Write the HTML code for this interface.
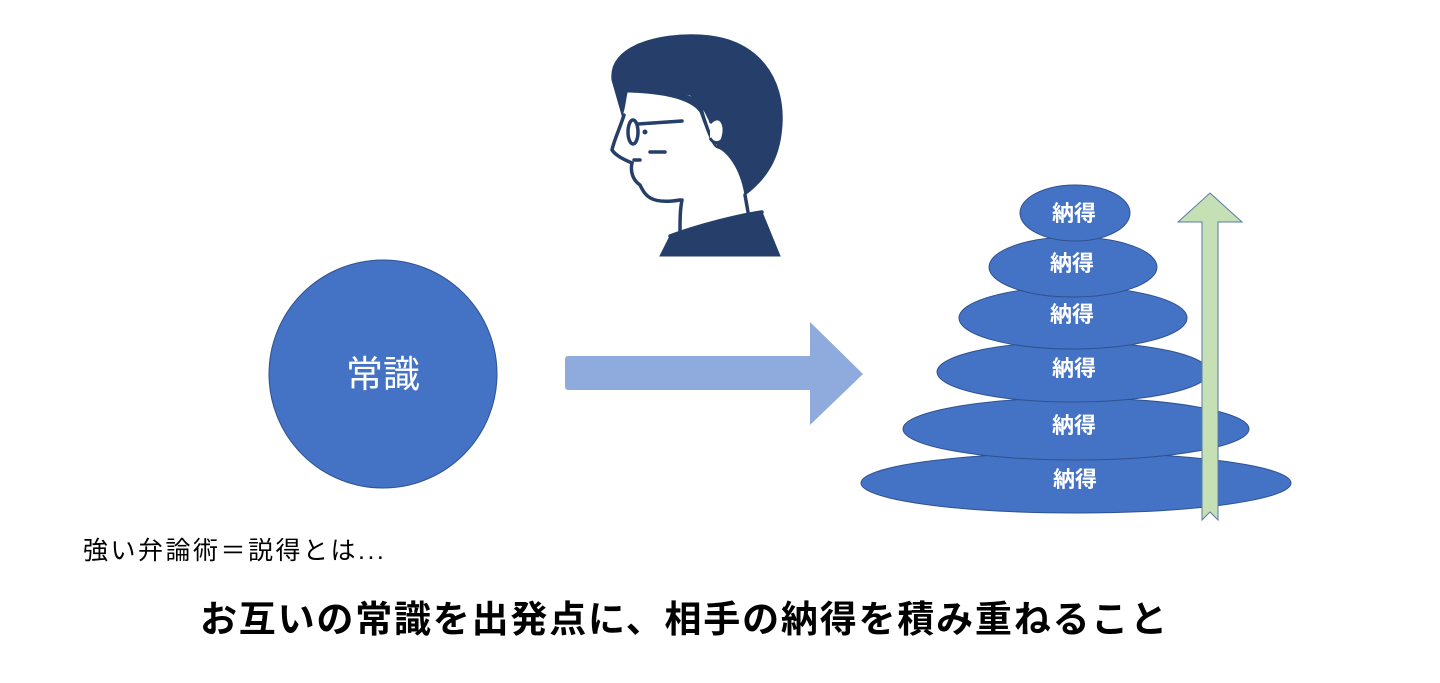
<!DOCTYPE html>
<html><head><meta charset="utf-8"><style>
body{margin:0;width:1440px;height:683px;background:#fff;overflow:hidden;position:relative;font-family:"Liberation Sans","Noto Sans CJK JP",sans-serif}
.t{position:absolute;white-space:nowrap;color:#000}
</style></head><body>
<svg width="1440" height="683" style="position:absolute;left:0;top:0">
<!-- person -->
<g fill="#263f6a" stroke="#263f6a">
<path d="M612,80 C608,45 660,33 700,35 C760,38 785,80 782,125 C780,160 765,180 745,195 C740,165 725,150 718,148 C712,120 700,100 690,95 C670,95 640,90 628,88 C625,100 625,110 622,115 Z"/>
<path d="M628,88 C660,90 690,95 700,100 C705,120 712,140 718,148 C712,148 705,125 700,112 C690,98 660,93 628,92 Z"/>
<path d="M660,256 L670,236 C700,225 740,215 762,212 L780,256 Z"/>
</g>
<g fill="none" stroke="#263f6a" stroke-width="3.5" stroke-linecap="round">
<path d="M624,115 C620,128 614,140 612,150 C616,156 625,160 632,163 C630,172 633,180 640,185 C645,195 650,205 680,200"/>
<path d="M682,200 C680,210 680,220 680,232"/>
<path d="M745,195 L748,212"/>
<path d="M670,236 C700,225 740,215 762,212"/>
<ellipse cx="633" cy="132" rx="5" ry="12"/>
<path d="M638,124 L682,121"/>
<path d="M650,152 L665,152"/>
<path d="M634,160 L640,160"/>
</g>
<circle cx="645" cy="132" r="2.5" fill="#263f6a"/>
<path d="M710,123 C720,112 728,125 722,140 C717,145 712,142 710,138" fill="#fff" stroke="#263f6a" stroke-width="3"/>
<!-- circle -->
<circle cx="383" cy="374" r="114" fill="#4472c4" stroke="#2f528f" stroke-width="1"/>
<!-- arrow -->
<path d="M568,356 L810,356 L810,322 L863,374 L810,425 L810,390 L568,390 Q565,390 565,386 L565,360 Q565,356 568,356 Z" fill="#8faadc"/>
<!-- ellipses -->
<g fill="#4472c4" stroke="#2f528f" stroke-width="1">
<ellipse cx="1076" cy="483" rx="215" ry="30"/>
<ellipse cx="1076" cy="429" rx="173" ry="31"/>
<ellipse cx="1073" cy="372" rx="136" ry="30"/>
<ellipse cx="1073" cy="318" rx="114" ry="31"/>
<ellipse cx="1073" cy="267" rx="84" ry="30"/>
<ellipse cx="1075" cy="213" rx="55" ry="28"/>
</g>
<g fill="#fff" font-size="22" font-weight="bold" font-family="Liberation Sans,Noto Sans CJK JP,sans-serif" text-anchor="middle">
<text x="1074" y="221">納得</text>
<text x="1072" y="271">納得</text>
<text x="1072" y="322">納得</text>
<text x="1074" y="376">納得</text>
<text x="1074" y="433">納得</text>
<text x="1075" y="487">納得</text>
</g>
<text x="383" y="387" fill="#fff" font-size="37" text-anchor="middle" font-family="Liberation Sans,Noto Sans CJK JP,sans-serif">常識</text>
<!-- green arrow -->
<path d="M1210,193 L1242,222 L1218,222 L1218,520 L1210,512 L1202,520 L1202,222 L1178,222 Z" fill="#c5e0b4" stroke="#5a7aa8" stroke-width="1"/>
</svg>
<div class="t" style="left:83px;top:531px;font-size:25px;letter-spacing:2.5px">強い弁論術＝説得とは...</div>
<div class="t" style="left:200px;top:589px;font-size:37px;font-weight:bold;letter-spacing:1.8px">お互いの常識を出発点に、相手の納得を積み重ねること</div>
</body></html>
